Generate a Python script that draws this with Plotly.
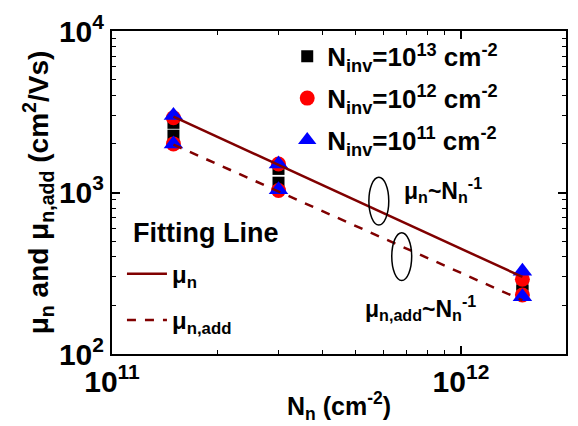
import plotly.graph_objects as go

# ---- data ----
N_n = [1.5e11, 3e11, 1.5e12]
mu_n_1e13 = [2700, 1400, 270]
mu_add_1e13 = [2250, 1150, 245]
mu_n_1e12 = [2900, 1500, 290]
mu_add_1e12 = [2000, 1030, 232]
mu_n_1e11 = [3000, 1500, 325]
mu_add_1e11 = [2000, 1040, 226]
fit_x = [1.5e11, 1.5e12]
fit_mu_n = [2950, 300]
fit_mu_add = [1980, 215]

series_names = ["N<sub>inv</sub>=10<sup>13</sup> cm<sup>-2</sup>",
                "N<sub>inv</sub>=10<sup>12</sup> cm<sup>-2</sup>",
                "N<sub>inv</sub>=10<sup>11</sup> cm<sup>-2</sup>"]
y_ticks = [1e2, 1e3, 1e4]
y_ticktext = ["<b>10<sup>2</sup></b>", "<b>10<sup>3</sup></b>", "<b>10<sup>4</sup></b>"]
x_ticks = [1e11, 1e12]
x_ticktext = ["<b>10<sup>11</sup></b>", "<b>10<sup>12</sup></b>"]

FONT = "Liberation Sans, Arial, sans-serif"
fig = go.Figure()

styles = [
    dict(symbol="square", color="black", size=12),
    dict(symbol="circle", color="red", size=15),
    dict(symbol="triangle-up", color="blue", size=17),
]
data = [(mu_n_1e13, mu_add_1e13), (mu_n_1e12, mu_add_1e12), (mu_n_1e11, mu_add_1e11)]
for i, ((a, b), st, nm) in enumerate(zip(data, styles, series_names)):
    fig.add_trace(go.Scatter(
        x=N_n + N_n, y=a + b, mode="markers", name="<b>" + nm + "</b>",
        marker=dict(symbol=st["symbol"], color=st["color"], size=st["size"], line=dict(width=0)),
        legend="legend", legendgroup=f"g{i}"))

fig.add_trace(go.Scatter(x=fit_x, y=fit_mu_n, mode="lines", name="<b>μ<sub>n</sub></b>",
                         line=dict(color="#800000", width=2.5), legend="legend2", legendgroup="f1"))
fig.add_trace(go.Scatter(x=fit_x, y=fit_mu_add, mode="lines", name="<b>μ<sub>n,add</sub></b>",
                         line=dict(color="#800000", width=2.5, dash="dash"), legend="legend2",
                         legendgroup="f2"))

L, R, T, B = 112, 10, 22, 66
W, H = 578, 426
pw, ph = W - L - R, H - T - B

def px(x):
    return (x - L) / pw

def py(y):
    return (H - B - y) / ph

axis_common = dict(
    showline=True, linecolor="black", linewidth=2, mirror="allticks",
    ticks="inside", ticklen=8, tickwidth=1.5, tickcolor="black",
    showgrid=False, zeroline=False,
    tickfont=dict(family=FONT, size=30, color="black"),
)
minor_x = [m * 10 ** e for e in (11, 12) for m in range(2, 10) if m * 10 ** e <= 2e12]
minor_y = [m * 10 ** e for e in (2, 3) for m in range(2, 10)]

fig.update_xaxes(type="log", range=[11, 12.301], tickvals=x_ticks, ticktext=x_ticktext,
                 minor=dict(ticks="inside", ticklen=4, tickwidth=1, tickcolor="black", tickvals=minor_x),
                 title=dict(text="<b>N<sub>n</sub> (cm<sup>-2</sup>)</b>",
                            font=dict(family=FONT, size=25, color="black"), standoff=0),
                 **axis_common)
fig.update_yaxes(type="log", range=[2, 4], tickvals=y_ticks, ticktext=y_ticktext,
                 minor=dict(ticks="inside", ticklen=4, tickwidth=1, tickcolor="black", tickvals=minor_y),
                 title=dict(text="<b>μ<sub>n</sub> and μ<sub>n,add</sub> (cm<sup>2</sup>/Vs)</b>",
                            font=dict(family=FONT, size=28, color="black"), standoff=2),
                 **axis_common)

# ellipses
fig.add_shape(type="circle", xref="paper", yref="paper",
              x0=px(370), x1=px(390), y0=py(225), y1=py(175), line=dict(color="black", width=1.5))
fig.add_shape(type="circle", xref="paper", yref="paper",
              x0=px(393), x1=px(413), y0=py(283), y1=py(233), line=dict(color="black", width=1.5))

fig.add_annotation(xref="paper", yref="paper", x=px(403), y=py(188), showarrow=False,
                   xanchor="left", yanchor="middle",
                   text="<b>μ<sub>n</sub>~N<sub>n</sub><sup>-1</sup></b>",
                   font=dict(family=FONT, size=23, color="black"))
fig.add_annotation(xref="paper", yref="paper", x=px(364), y=py(312), showarrow=False,
                   xanchor="left", yanchor="middle",
                   text="<b>μ<sub>n,add</sub>~N<sub>n</sub><sup>-1</sup></b>",
                   font=dict(family=FONT, size=23, color="black"))
fig.add_annotation(xref="paper", yref="paper", x=px(131), y=py(233), showarrow=False,
                   xanchor="left", yanchor="middle",
                   text="<b>Fitting Line</b>",
                   font=dict(family=FONT, size=27, color="black"))

fig.update_layout(
    width=W, height=H, margin=dict(l=L, r=R, t=T, b=B),
    paper_bgcolor="white", plot_bgcolor="white",
    font=dict(family=FONT, color="black"),
    legend=dict(x=px(288), y=py(24), xanchor="left", yanchor="top",
                bgcolor="rgba(0,0,0,0)", traceorder="grouped", tracegroupgap=5,
                font=dict(family=FONT, size=26, color="black")),
    legend2=dict(x=px(122), y=py(253), xanchor="left", yanchor="top",
                 bgcolor="rgba(0,0,0,0)", traceorder="grouped", tracegroupgap=12,
                 itemwidth=40,
                 font=dict(family=FONT, size=24, color="black")),
    showlegend=True,
)

fig.write_html("out.html")
